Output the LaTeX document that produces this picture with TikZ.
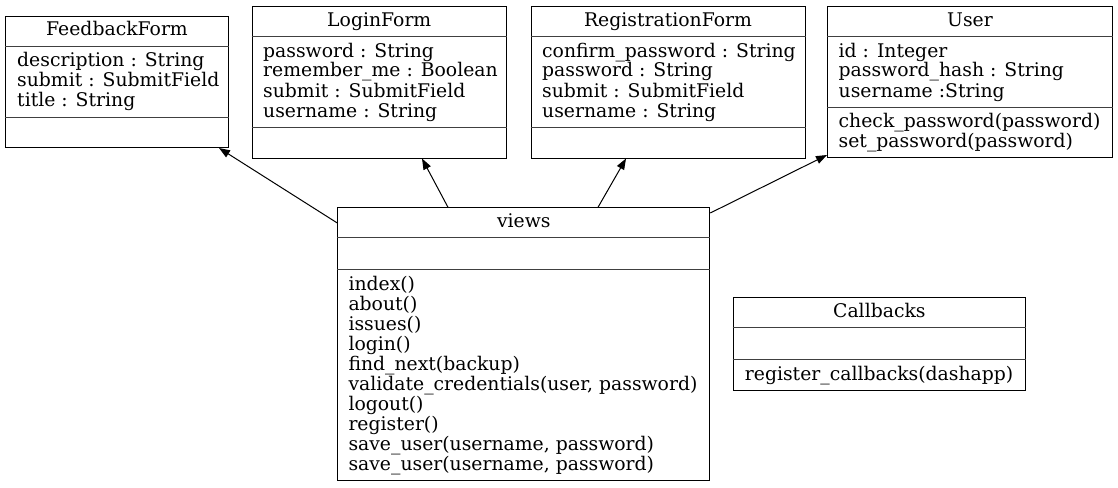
\documentclass[tikz,border=0pt]{standalone}
\usepackage{fontspec}
\setmainfont{DejaVu Serif}
\usepackage{tikz}
\usetikzlibrary{arrows.meta, calc}

\begin{document}
\begin{tikzpicture}[x=1pt, y=-1pt,
	classbox/.style={draw, line width=1pt, inner sep=0pt, anchor=north west},
	ctitle/.style={anchor=base, inner sep=0pt, font=\fontsize{18.8}{20}\selectfont},
	cline/.style={anchor=base west, inner sep=0pt, font=\fontsize{18.8}{20}\selectfont},
	sep/.style={line width=1pt, black!75},
	dep/.style={line width=1pt, -{Triangle[length=11pt, width=8pt]}}]
	    \useasboundingbox (0,0) rectangle (1118,487);
	    \node[classbox, minimum width=223pt, minimum height=131.3pt] (feedback) at (5,15.7) {};
	    \node[classbox, minimum width=254.5pt, minimum height=151.5pt] (login) at (251.5,6) {};
	    \node[classbox, minimum width=274pt, minimum height=151.5pt] (registration) at (530.5,6) {};
	    \node[classbox, minimum width=285pt, minimum height=151pt] (user) at (827,6) {};
	    \node[classbox, minimum width=372pt, minimum height=272.7pt] (views) at (337.3,207.3) {};
	    \node[classbox, minimum width=292.3pt, minimum height=92.7pt] (callbacks) at (732.7,297.3) {};
	    \draw[sep] ($(feedback.north west)+(0,31)$) -- ($(feedback.north east)+(0,31)$);
	    \draw[sep] ($(feedback.north west)+(0,101.3)$) -- ($(feedback.north east)+(0,101.3)$);
	    \draw[sep] ($(login.north west)+(0,31)$) -- ($(login.north east)+(0,31)$);
	    \draw[sep] ($(login.north west)+(0,121)$) -- ($(login.north east)+(0,121)$);
	    \draw[sep] ($(registration.north west)+(0,31)$) -- ($(registration.north east)+(0,31)$);
	    \draw[sep] ($(registration.north west)+(0,121)$) -- ($(registration.north east)+(0,121)$);
	    \draw[sep] ($(user.north west)+(0,31)$) -- ($(user.north east)+(0,31)$);
	    \draw[sep] ($(user.north west)+(0,101)$) -- ($(user.north east)+(0,101)$);
	    \draw[sep] ($(views.north west)+(0,30.5)$) -- ($(views.north east)+(0,30.5)$);
	    \draw[sep] ($(views.north west)+(0,62.5)$) -- ($(views.north east)+(0,62.5)$);
	    \draw[sep] ($(callbacks.north west)+(0,30.5)$) -- ($(callbacks.north east)+(0,30.5)$);
	    \draw[sep] ($(callbacks.north west)+(0,62)$) -- ($(callbacks.north east)+(0,62)$);
	    \node[ctitle] (feedback-t) at ($(feedback.north)+(0,20.3)$) {FeedbackForm};
	    \node[cline] (feedback-1) at ($(feedback.north west)+(12,51)$) {description : String};
	    \node[cline] (feedback-2) at ($(feedback.north west)+(12,71)$) {submit : SubmitField};
	    \node[cline] (feedback-3) at ($(feedback.north west)+(12,91)$) {title : String};
	    \node[ctitle] (login-t) at ($(login.north)+(0,20.3)$) {LoginForm};
	    \node[cline] (login-1) at ($(login.north west)+(11.5,51)$) {password : String};
	    \node[cline] (login-2) at ($(login.north west)+(11.5,71)$) {remember\_me : Boolean};
	    \node[cline] (login-3) at ($(login.north west)+(11.5,91)$) {submit : SubmitField};
	    \node[cline] (login-4) at ($(login.north west)+(11.5,111)$) {username : String};
	    \node[ctitle] (registration-t) at ($(registration.north)+(0,20.3)$) {RegistrationForm};
	    \node[cline] (registration-1) at ($(registration.north west)+(11.5,51)$) {confirm\_password : String};
	    \node[cline] (registration-2) at ($(registration.north west)+(11.5,71)$) {password : String};
	    \node[cline] (registration-3) at ($(registration.north west)+(11.5,91)$) {submit : SubmitField};
	    \node[cline] (registration-4) at ($(registration.north west)+(11.5,111)$) {username : String};
	    \node[ctitle] (user-t) at ($(user.north)+(0,20.3)$) {User};
	    \node[cline] (user-1) at ($(user.north west)+(11.5,51)$) {id : Integer};
	    \node[cline] (user-2) at ($(user.north west)+(11.5,71)$) {password\_hash : String};
	    \node[cline] (user-3) at ($(user.north west)+(11.5,91)$) {username :String};
	    \node[cline] (user-4) at ($(user.north west)+(11.5,121)$) {check\_password(password)};
	    \node[cline] (user-5) at ($(user.north west)+(11.5,141)$) {set\_password(password)};
	    \node[ctitle] (views-t) at ($(views.north)+(0,20)$) {views};
	    \node[cline] (views-1) at ($(views.north west)+(11,83.4)$) {index()};
	    \node[cline] (views-2) at ($(views.north west)+(11,103.4)$) {about()};
	    \node[cline] (views-3) at ($(views.north west)+(11,123.4)$) {issues()};
	    \node[cline] (views-4) at ($(views.north west)+(11,143.4)$) {login()};
	    \node[cline] (views-5) at ($(views.north west)+(11,163.4)$) {find\_next(backup)};
	    \node[cline] (views-6) at ($(views.north west)+(11,183.4)$) {validate\_credentials(user, password)};
	    \node[cline] (views-7) at ($(views.north west)+(11,203.4)$) {logout()};
	    \node[cline] (views-8) at ($(views.north west)+(11,223.4)$) {register()};
	    \node[cline] (views-9) at ($(views.north west)+(11,243.4)$) {save\_user(username, password)};
	    \node[cline] (views-10) at ($(views.north west)+(11,263.4)$) {save\_user(username, password)};
	    \node[ctitle] (callbacks-t) at ($(callbacks.north)+(0,20)$) {Callbacks};
	    \node[cline] (callbacks-1) at ($(callbacks.north west)+(12,82.7)$) {register\_callbacks(dashapp)};
	    \draw[dep] ($(views.north west)+(0,15.7)$) -- ($(feedback.south east)+(-10,0)$);
	    \draw[dep] ($(views.north west)+(110.7,0)$) -- ($(login.south west)+(170.5,0)$);
	    \draw[dep] ($(views.north west)+(260.7,0)$) -- ($(registration.south west)+(95.5,0)$);
	    \draw[dep] ($(views.north east)+(0,5.7)$) -- ($(user.south west)+(0,-3)$);
	\end{tikzpicture}
\end{document}
